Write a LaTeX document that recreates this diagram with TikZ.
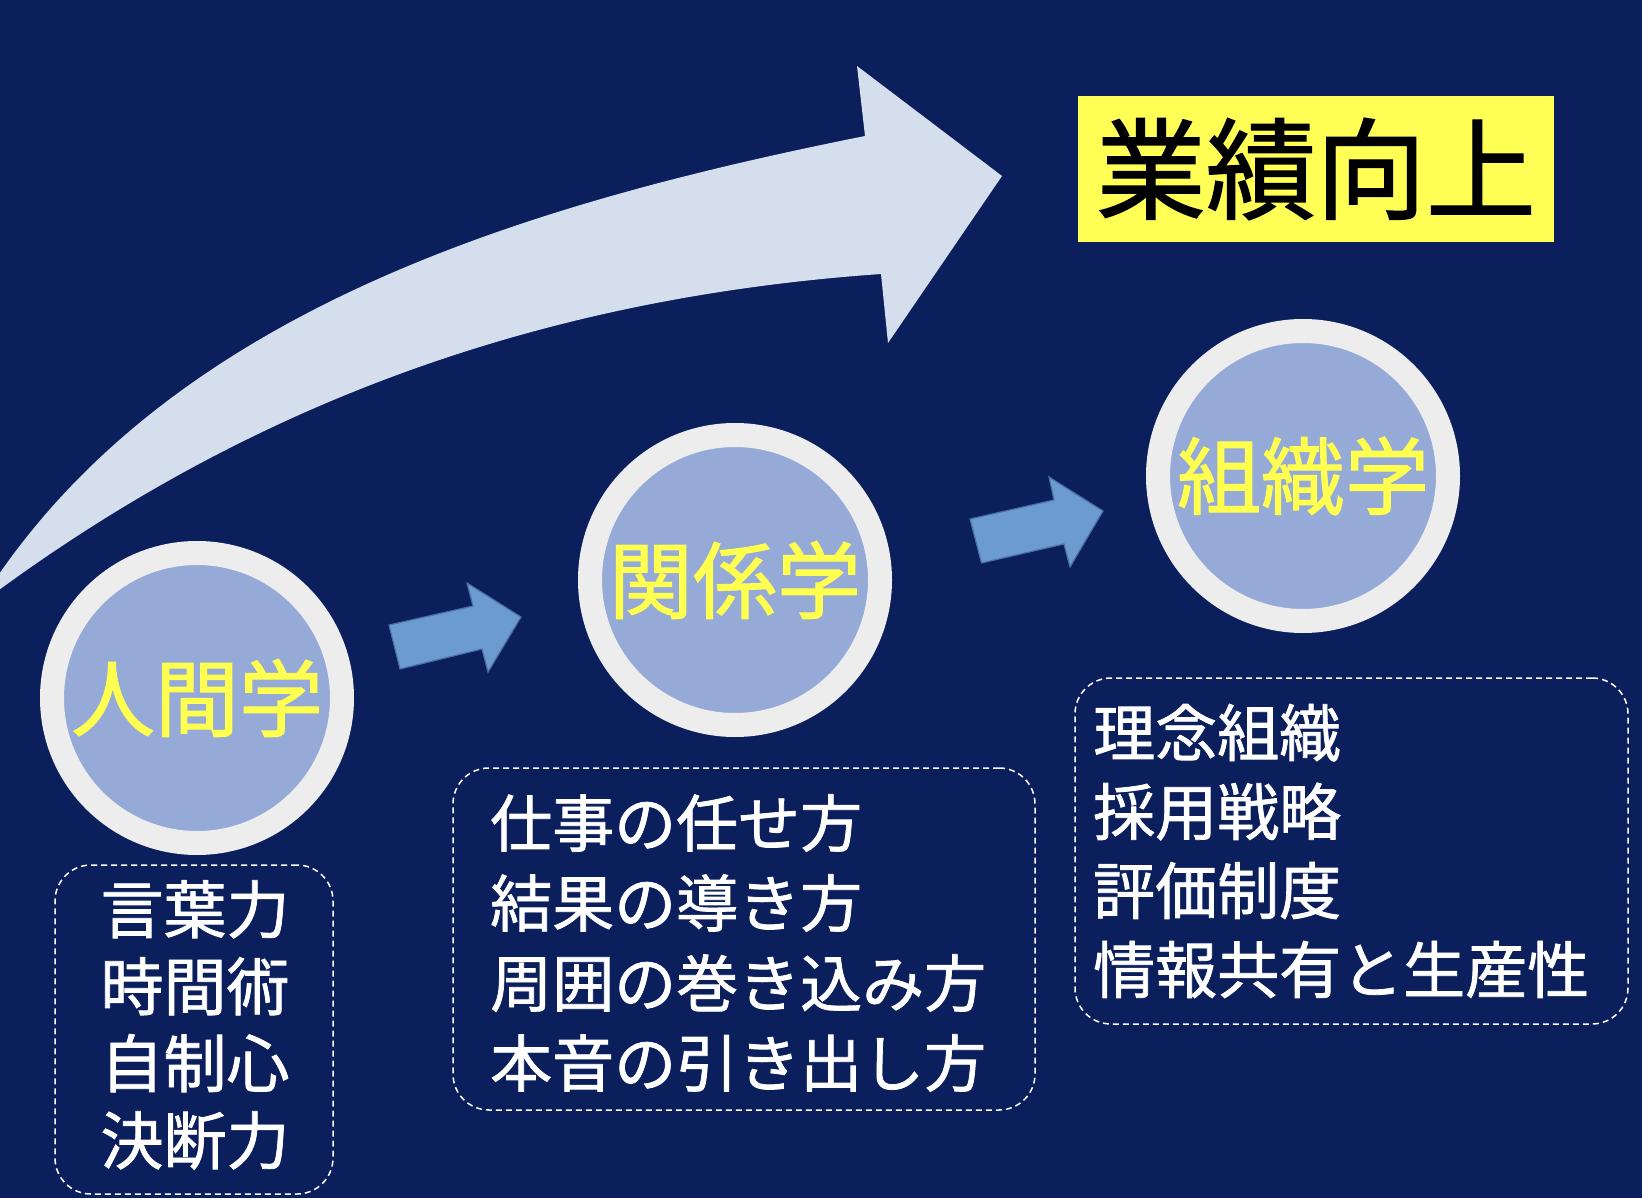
\documentclass[tikz,border=0pt]{standalone}
\usepackage{fontspec}
\setmainfont{Noto Sans CJK JP}
\newfontfamily\jpmed{Noto Sans CJK JP}[FakeBold=1.2]
\definecolor{bg}{RGB}{11,31,92}
\definecolor{bigarr}{RGB}{213,222,237}
\definecolor{ringc}{RGB}{237,237,237}
\definecolor{innerc}{RGB}{150,170,215}
\definecolor{ytext}{RGB}{255,255,80}
\definecolor{ybox}{RGB}{255,255,85}
\definecolor{smarr}{RGB}{107,155,209}
\definecolor{smarrb}{RGB}{74,111,165}
\tikzset{
  ring/.style={circle, draw=ringc, line width=24pt, fill=innerc, minimum size=290pt, inner sep=0pt},
  circtext/.style={text=ytext, font=\jpmed\fontsize{84}{90}\selectfont, inner sep=0pt},
  dbox/.style={draw=white, line width=1.5pt, dash pattern=on 6pt off 4pt, rounded corners=36pt, inner sep=0pt},
  listtext/.style={text=white, inner sep=0pt},
  smallarrow/.style={fill=smarr, draw=smarrb, line width=1.2pt, line join=miter},
}
\begin{document}
\begin{tikzpicture}[x=1pt,y=-1pt]
\useasboundingbox (0,0) rectangle (1642,1198);
\fill[bg] (0,0) rectangle (1642,1198);
\begin{scope}
\clip (0,0) rectangle (1642,1198);
% big curved arrow
\fill[bigarr] (-20,603) .. controls (160,315) and (515,206) .. (865,136)
  -- (857,66) -- (1002,176) -- (888,343) -- (881,274)
  .. controls (531,298.5) and (240,409) .. (-20,604) -- cycle;
\end{scope}

% title box
\node[fill=ybox, minimum width=476pt, minimum height=146pt, inner sep=0pt] (goal) at (1316,169) {};
\node[text=black, font=\jpmed\fontsize{110}{120}\selectfont, inner sep=0pt] (goaltext) at (goal.center) {業績向上};

% circles
\node[ring] (c1) at (197,698) {};
\node[circtext] (t1) at (c1.center) {人間学};
\node[ring] (c2) at (735,580) {};
\node[circtext] (t2) at (c2.center) {関係学};
\node[ring] (c3) at (1303,476) {};
\node[circtext] (t3) at (c3.center) {組織学};

% small arrows
\draw[smallarrow] (389,625) -- (473,606) -- (467,583) -- (521,617) -- (488,672) -- (482,649) -- (400,669) -- cycle;
\draw[smallarrow] (970,519) -- (1054,500) -- (1049,477) -- (1103,511) -- (1070,567) -- (1064,544) -- (981.5,563) -- cycle;

% dashed boxes
\node[dbox, minimum width=278pt, minimum height=329pt] (b1) at (194,1029.5) {};
\node[dbox, minimum width=582pt, minimum height=342pt] (b2) at (744,939) {};
\node[dbox, minimum width=553pt, minimum height=346pt] (b3) at (1351.5,851) {};

% lists
\node[listtext, align=center, font=\jpmed\fontsize{63}{77}\selectfont] (l1) at (195,1025) {言葉力\\時間術\\自制心\\決断力};
\node[listtext, align=left, anchor=west, font=\jpmed\fontsize{62}{80}\selectfont] (l2) at (490,943) {仕事の任せ方\\結果の導き方\\周囲の巻き込み方\\本音の引き出し方};
\node[listtext, align=left, anchor=west, font=\jpmed\fontsize{62}{79}\selectfont] (l3) at (1093,851) {理念組織\\採用戦略\\評価制度\\情報共有と生産性};
\end{tikzpicture}
\end{document}
